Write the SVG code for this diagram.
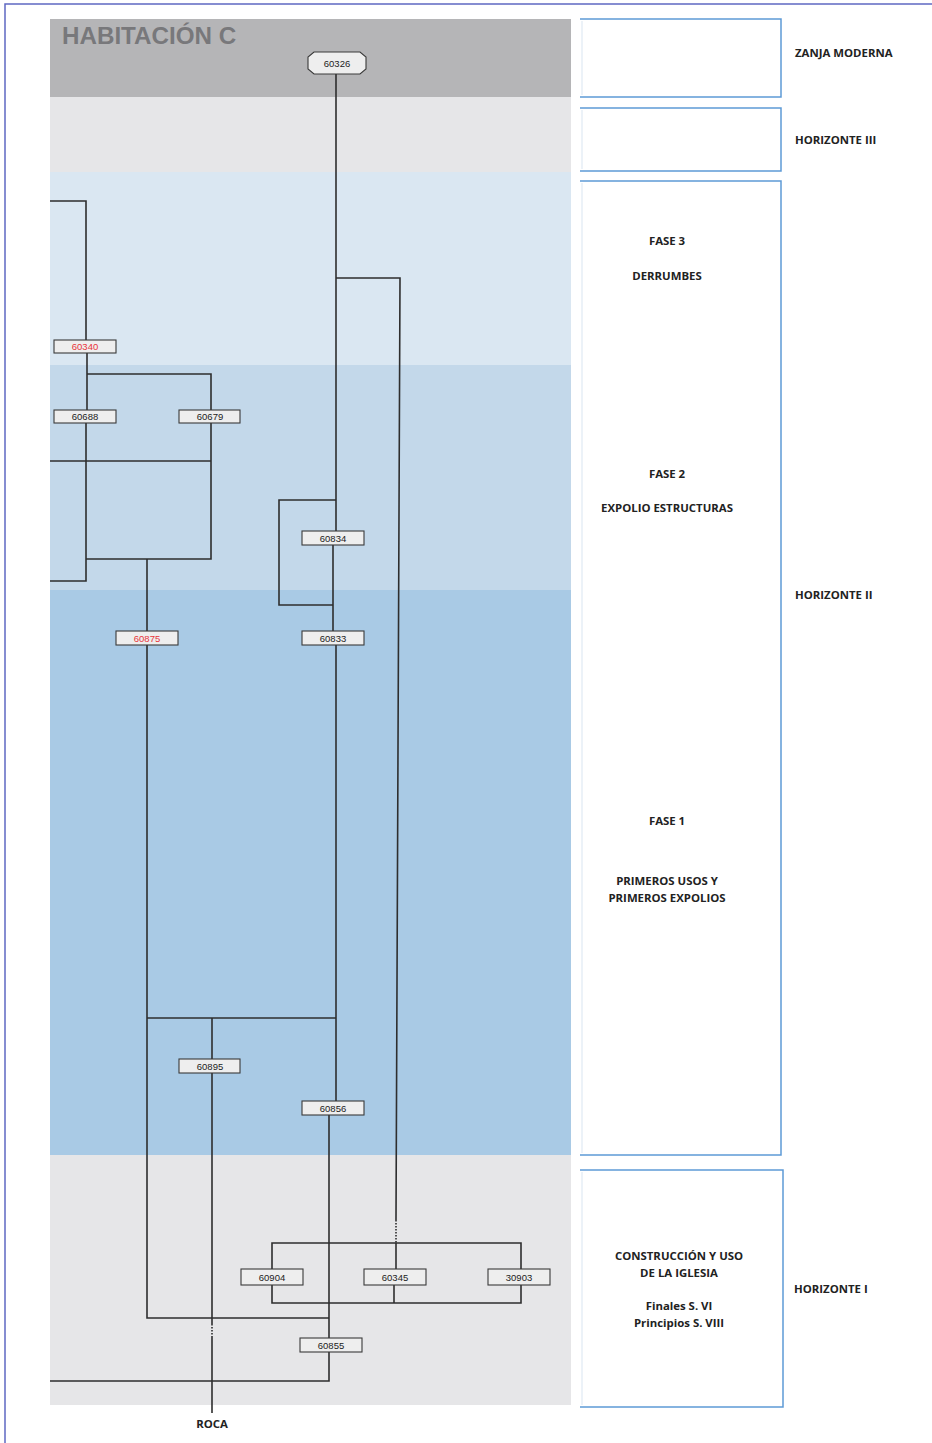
<svg xmlns="http://www.w3.org/2000/svg" width="932" height="1443" viewBox="0 0 932 1443">
<style>
.ln{fill:none;stroke:#2e2e2e;stroke-width:1.6}
.dot{fill:none;stroke:#2e2e2e;stroke-width:1.6;stroke-dasharray:1.5 1.5}
.box{fill:#eeeeee;stroke:#3a3a3a;stroke-width:1.1}
.nt{font-family:"Liberation Sans",Arial,sans-serif;font-size:9.5px;fill:#222;text-anchor:middle;dominant-baseline:central}
.red{fill:#e8343a}
.br{fill:none;stroke:#5d9ad6;stroke-width:1.5}
.brl{fill:none;stroke:#dfe9f4;stroke-width:1.2}
.lab{font-family:"Open Sans","Liberation Sans",sans-serif;font-weight:700;font-size:11.4px;fill:#222}
.mid{text-anchor:middle}
</style>
<rect x="0" y="0" width="932" height="1443" fill="#ffffff"/>
<path d="M5,1443 V4 H932" fill="none" stroke="#5f68c2" stroke-width="1.5"/>
<g id="bands">
<rect x="50" y="19" width="521" height="78" fill="#b5b5b7"/>
<rect x="50" y="97" width="521" height="75" fill="#e6e6e8"/>
<rect x="50" y="172" width="521" height="193" fill="#dae7f2"/>
<rect x="50" y="365" width="521" height="225" fill="#c3d8ea"/>
<rect x="50" y="590" width="521" height="565" fill="#a9cae5"/>
<rect x="50" y="1155" width="521" height="250" fill="#e6e6e8"/>
<text x="62" y="44" font-family="Liberation Sans,Arial,sans-serif" font-weight="700" font-size="24.2" fill="#78787b">HABITACIÓN C</text>
</g>
<g id="periods">
<path class="brl" d="M582,21 V95"/>
<path class="br" d="M580,19 H781 V97 H580"/>
<path class="brl" d="M582,110 V169"/>
<path class="br" d="M580,108 H781 V171 H580"/>
<path class="brl" d="M582,183 V1153"/>
<path class="br" d="M580,181 H781 V1155 H580"/>
<path class="brl" d="M582,1172 V1405"/>
<path class="br" d="M580,1170 H783 V1407 H580"/>
<text class="lab" x="795" y="57">ZANJA MODERNA</text>
<text class="lab" x="795" y="144">HORIZONTE III</text>
<text class="lab" x="795" y="599">HORIZONTE II</text>
<text class="lab" x="794" y="1293">HORIZONTE I</text>
<text class="lab mid" x="667" y="245">FASE 3</text>
<text class="lab mid" x="667" y="280">DERRUMBES</text>
<text class="lab mid" x="667" y="478">FASE 2</text>
<text class="lab mid" x="667" y="512">EXPOLIO ESTRUCTURAS</text>
<text class="lab mid" x="667" y="825">FASE 1</text>
<text class="lab mid" x="667" y="885">PRIMEROS USOS Y</text>
<text class="lab mid" x="667" y="902">PRIMEROS EXPOLIOS</text>
<text class="lab mid" x="679" y="1260">CONSTRUCCIÓN Y USO</text>
<text class="lab mid" x="679" y="1277">DE LA IGLESIA</text>
<text class="lab mid" x="679" y="1310">Finales S. VI</text>
<text class="lab mid" x="679" y="1327">Principios S. VIII</text>
</g>
<g id="connectors">
<path class="ln" d="M336,74 V531"/>
<path class="ln" d="M336,278 H400 L396,1220"/>
<path class="dot" d="M396,1220 V1243"/>
<path class="ln" d="M336,500 H279 V605 H333"/>
<path class="ln" d="M333,545 V631"/>
<path class="ln" d="M336,645 V1101"/>
<path class="ln" d="M329,1115 V1338"/>
<path class="ln" d="M329,1352 V1381 H50"/>
<path class="ln" d="M50,201 H86 V340"/>
<path class="ln" d="M87,353 V410"/>
<path class="ln" d="M87,374 H211 V410"/>
<path class="ln" d="M86,423 V581 H50"/>
<path class="ln" d="M50,461 H211"/>
<path class="ln" d="M211,423 V559 H86"/>
<path class="ln" d="M147,559 V631"/>
<path class="ln" d="M147,645 V1318 H329"/>
<path class="ln" d="M147,1018 H336"/>
<path class="ln" d="M212,1018 V1059"/>
<path class="ln" d="M212,1073 V1324"/>
<path class="dot" d="M212,1324 V1336"/>
<path class="ln" d="M212,1336 V1413"/>
<path class="ln" d="M272,1269 V1243 H521 V1269"/>
<path class="ln" d="M396,1243 V1269"/>
<path class="ln" d="M272,1285 V1303 H521 V1285"/>
<path class="ln" d="M394,1285 V1303"/>
</g>
<g id="n60326"><path class="box" d="M314,52 H360 L366,57 V69 L360,74 H314 L308,69 V57 Z"/><text class="nt" x="337" y="63" font-size="8.5">60326</text></g>
<g id="n60340"><rect class="box" x="54" y="340" width="62" height="13"/><text class="nt red" x="85" y="346.5">60340</text></g>
<g id="n60688"><rect class="box" x="54" y="410" width="62" height="13"/><text class="nt" x="85" y="416.5">60688</text></g>
<g id="n60679"><rect class="box" x="179" y="410" width="61" height="13"/><text class="nt" x="210" y="416.5">60679</text></g>
<g id="n60834"><rect class="box" x="302" y="531" width="62" height="14"/><text class="nt" x="333" y="538">60834</text></g>
<g id="n60833"><rect class="box" x="302" y="631" width="62" height="14"/><text class="nt" x="333" y="638">60833</text></g>
<g id="n60875"><rect class="box" x="116" y="631" width="62" height="14"/><text class="nt red" x="147" y="638">60875</text></g>
<g id="n60895"><rect class="box" x="179" y="1059" width="61" height="14"/><text class="nt" x="210" y="1066">60895</text></g>
<g id="n60856"><rect class="box" x="302" y="1101" width="62" height="14"/><text class="nt" x="333" y="1108">60856</text></g>
<g id="n60904"><rect class="box" x="241" y="1269" width="62" height="16"/><text class="nt" x="272" y="1277">60904</text></g>
<g id="n60345"><rect class="box" x="364" y="1269" width="62" height="16"/><text class="nt" x="395" y="1277">60345</text></g>
<g id="n30903"><rect class="box" x="488" y="1269" width="62" height="16"/><text class="nt" x="519" y="1277">30903</text></g>
<g id="n60855"><rect class="box" x="300" y="1338" width="62" height="14"/><text class="nt" x="331" y="1345">60855</text></g>
<g id="roca"><text class="lab mid" x="212" y="1428" font-size="10.5">ROCA</text></g>
</svg>
